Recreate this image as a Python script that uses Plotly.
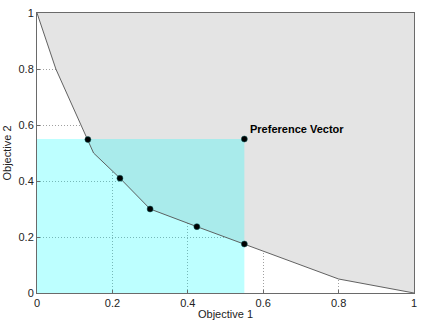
import plotly.graph_objects as go

# Pareto front (Objective 1, Objective 2)
front_x = [0.0, 0.05, 0.10, 0.135, 0.15, 0.22, 0.30, 0.424, 0.55, 0.80, 1.0]
front_y = [1.0, 0.80, 0.65, 0.548, 0.50, 0.41, 0.30, 0.237, 0.175, 0.05, 0.0]

# Solutions found (dots)
sol_x = [0.135, 0.22, 0.30, 0.424, 0.55]
sol_y = [0.548, 0.41, 0.30, 0.237, 0.175]

# Preference vector
pref_x = 0.55
pref_y = 0.55
pref_label = "Preference Vector"

ticks = [0, 0.2, 0.4, 0.6, 0.8, 1]
tick_text = ["0", "0.2", "0.4", "0.6", "0.8", "1"]

FONT = "Liberation Sans, Arial"

fig = go.Figure()

# grey area above the front
fig.add_trace(go.Scatter(
    x=front_x + [1.0, 0.0], y=front_y + [1.0, 1.0],
    fill="toself", fillcolor="#e4e4e4", mode="none", hoverinfo="skip"))

# cyan preference box
fig.add_trace(go.Scatter(
    x=[0, pref_x, pref_x, 0, 0], y=[0, 0, pref_y, pref_y, 0],
    fill="toself", fillcolor="rgba(0,255,255,0.26)", mode="none", hoverinfo="skip"))

# front line
fig.add_trace(go.Scatter(
    x=front_x, y=front_y, mode="lines",
    line=dict(color="#505050", width=0.9), hoverinfo="skip"))

# solution points + preference point
fig.add_trace(go.Scatter(
    x=sol_x + [pref_x], y=sol_y + [pref_y], mode="markers",
    marker=dict(color="black", size=6, line=dict(color="#0a5a5a", width=0.5))))

fig.add_annotation(x=0.559, y=0.586, text="<b>" + pref_label + "</b>",
                   showarrow=False, xanchor="left", yanchor="middle",
                   font=dict(family=FONT, size=11, color="black"))

axis_common = dict(
    range=[0, 1], tickvals=ticks, ticktext=tick_text,
    showgrid=True, gridcolor="#a0a0a0", griddash="1px,2px", gridwidth=1,
    zeroline=False, showline=True, linecolor="#6a6a6a", linewidth=1,
    mirror=True, ticks="inside", ticklen=3, tickcolor="#6a6a6a",
    tickfont=dict(family=FONT, size=11, color="#222222"),
)

fig.update_layout(
    width=421, height=324,
    margin=dict(l=37, r=4, t=13, b=31),
    paper_bgcolor="white", plot_bgcolor="white",
    showlegend=False,
    xaxis=dict(axis_common, title=dict(text="Objective 1", standoff=2,
               font=dict(family=FONT, size=11, color="#222222"))),
    yaxis=dict(axis_common, title=dict(text="Objective 2", standoff=4,
               font=dict(family=FONT, size=11, color="#222222"))),
)

fig.write_html("out.html")
